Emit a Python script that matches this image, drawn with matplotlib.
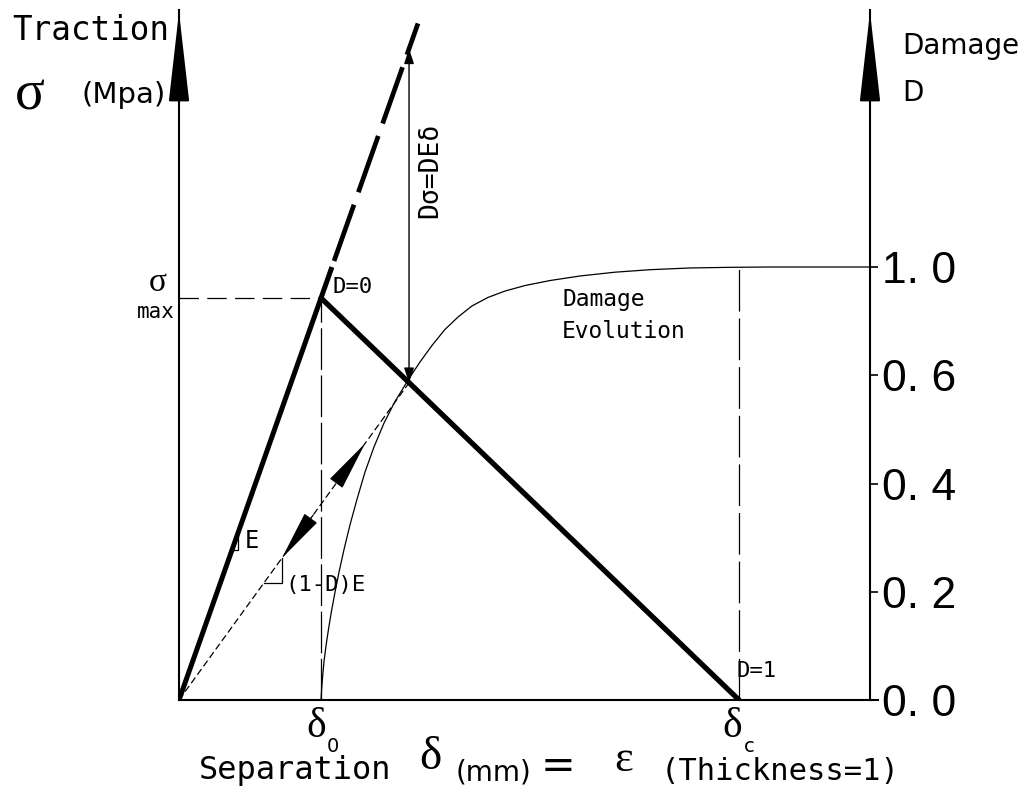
import matplotlib
matplotlib.use("Agg")
import matplotlib.pyplot as plt

plt.rcParams['lines.scale_dashes'] = False

W, H, DPI = 1024, 792, 100

# Bilinear cohesive law, normalised so that delta_0 = 1 and sigma_max = 1
delta_0 = 1.0
delta_c = 3.944
sigma_max = 1.0
stiffness_E = sigma_max / delta_0

# elastic branch: solid part, then dashed undamaged-stiffness extension
elastic_delta = [0.0, 1.077]
extension_delta = [1.092, 1.683]

# softening branch
softening_delta = [delta_0, delta_c]
softening_sigma = [sigma_max, 0.0]

# unloading / reloading path with damaged stiffness (1-D)E
delta_u = 1.62
sigma_u = 0.789
unload_delta = [0.0, delta_u]
unload_sigma = [0.0, sigma_u]

# damage evolution (delta, level on the damage axis scale)
damage_delta = [1.000, 1.004, 1.011, 1.021, 1.035, 1.053, 1.074, 1.099,
                1.127, 1.162, 1.204, 1.254, 1.310, 1.373, 1.444, 1.521,
                1.627, 1.697, 1.782, 1.873, 1.965, 2.063, 2.176, 2.296,
                2.437, 2.613, 2.824, 3.070, 3.317, 3.599, 3.880, 4.162,
                4.866]
damage_level = [0.000, 0.092, 0.212, 0.351, 0.499, 0.656, 0.822, 0.998,
                1.182, 1.390, 1.617, 1.857, 2.106, 2.337, 2.559, 2.758,
                2.984, 3.122, 3.276, 3.423, 3.538, 3.640, 3.719, 3.778,
                3.829, 3.875, 3.917, 3.952, 3.975, 3.991, 3.997, 4.000,
                4.000]
damage_full_level = 4.0

damage_ticks = [0, 1, 2, 3, 4]
damage_ticklabels = ["0. 0", "0. 2", "0. 4", "0. 6", "1. 0"]

MONO = "DejaVu Sans Mono"
SANS = "DejaVu Sans"
SERIF = "Liberation Serif"
DIGITS = "Liberation Sans"


def fx(px):
    return px / W


def fy(py):
    return 1.0 - py / H


fig = plt.figure(figsize=(W / DPI, H / DPI), dpi=DPI, facecolor="white")

# traction axes (left + bottom)
ax = fig.add_axes([fx(179), fy(700), (878 - 179) / W, 690 / H])
ax.set_xlim(0, (878 - 179) / 142)
ax.set_ylim(0, 690 / 402)
ax.set_facecolor("none")
for s in ("top", "right"):
    ax.spines[s].set_visible(False)
for s in ("left", "bottom"):
    ax.spines[s].set_linewidth(1.5)
    ax.spines[s].set_color("black")
ax.set_xticks([])
ax.set_yticks([])

# damage axes (right)
ax2 = fig.add_axes([fx(179), fy(700), (870 - 179) / W, 690 / H])
ax2.set_xlim(0, (870 - 179) / 142)
ax2.set_ylim(0, 690 / 108.25)
ax2.set_facecolor("none")
for s in ("top", "left", "bottom"):
    ax2.spines[s].set_visible(False)
ax2.spines["right"].set_linewidth(1.5)
ax2.set_xticks([])
ax2.yaxis.tick_right()
ax2.set_yticks(damage_ticks)
ax2.set_yticklabels(damage_ticklabels, fontfamily=DIGITS, fontsize=32)
ax2.tick_params(axis="y", direction="out", length=6, width=1.2, pad=3)

# axis arrows
arrow_big = dict(arrowstyle="-|>,head_length=57,head_width=6.5",
                 mutation_scale=1, color="black", lw=1.5,
                 shrinkA=0, shrinkB=0)
ax.annotate("", xy=(0, 688 / 402), xytext=(0, 608 / 402),
            arrowprops=arrow_big, annotation_clip=False)
ax2.annotate("", xy=(691 / 142, 688 / 108.25), xytext=(691 / 142, 608 / 108.25),
             arrowprops=arrow_big, annotation_clip=False)

# elastic branch
ax.plot(elastic_delta, [stiffness_E * d for d in elastic_delta],
        color="black", lw=3.6, solid_capstyle="butt")
ax.plot(extension_delta, [stiffness_E * d for d in extension_delta],
        color="black", lw=3.4, linestyle=(0, (43, 9.5)),
        dash_capstyle="butt")

# softening branch
ax.plot(softening_delta, softening_sigma, color="black", lw=3.8,
        solid_capstyle="round")

# guide lines
ax.plot([0, delta_0], [sigma_max, sigma_max], color="black", lw=0.9,
        linestyle=(0, (14, 6)))
ax.plot([delta_0, delta_0], [0, sigma_max], color="black", lw=0.9,
        linestyle=(0, (30, 4)))
ax2.plot([delta_c, delta_c], [0, damage_full_level], color="black", lw=0.9,
         linestyle=(0, (30, 5)))

# unloading path
ax.plot(unload_delta, unload_sigma, color="black", lw=0.9,
        linestyle=(0, (5, 2.5)))
k_unload = sigma_u / delta_u
head = dict(arrowstyle="-|>,head_length=32,head_width=5", mutation_scale=1,
            color="black", lw=0.9, shrinkA=0, shrinkB=0)
ax.annotate("", xy=(1.31, k_unload * 1.31), xytext=(1.12, k_unload * 1.12),
            arrowprops=head)
ax.annotate("", xy=(0.725, k_unload * 0.725), xytext=(0.944, k_unload * 0.944),
            arrowprops=head)

# stress drop arrow
ax.annotate("", xy=(delta_u, stiffness_E * delta_u), xytext=(delta_u, sigma_u),
            arrowprops=dict(arrowstyle="<|-|>,head_length=9,head_width=3",
                            mutation_scale=1, color="black", lw=1.0,
                            shrinkA=0, shrinkB=0))


# slope markers
def slope_mark(x0, slope, run):
    y0 = slope * x0
    ax.plot([x0, x0 + run, x0 + run], [y0, y0, slope * (x0 + run)],
            color="black", lw=0.9)


slope_mark(0.373, stiffness_E, 0.042)
slope_mark(0.600, k_unload, 0.125)

# damage evolution
ax2.plot(damage_delta, damage_level, color="black", lw=0.9)


# ---- text ----
def ftext(px, py, s, **kw):
    kw.setdefault("va", "center")
    kw.setdefault("ha", "left")
    fig.text(fx(px), fy(py), s, **kw)


ftext(12, 30, "Traction", family=MONO, fontsize=23.5)
ftext(30, 95, "σ", family=SERIF, fontsize=40, ha="center")
ftext(82, 95, "(Mpa)", family=SANS, fontsize=21)
ftext(902, 46, "Damage", family=SANS, fontsize=20)
ftext(902, 93, "D", family=SANS, fontsize=20)

ftext(158, 283, "σ", family=SERIF, fontsize=24, ha="center")
ftext(175, 312, "max", family=MONO, fontsize=15, ha="right")

ftext(332, 287, "D=0", family=MONO, fontsize=16)
ftext(736, 671, "D=1", family=MONO, fontsize=16)
ftext(430, 170, "Dσ=DEδ", family=MONO, fontsize=19, ha="center",
      rotation=90)
ftext(562, 299, "Damage", family=MONO, fontsize=16.5)
ftext(562, 332, "Evolution", family=MONO, fontsize=16.5)
ftext(245, 541, "E", family=MONO, fontsize=17)
ftext(285, 585, "(1-D)E", family=MONO, fontsize=16)

ftext(316, 727, "δ", family=SERIF, fontsize=30, ha="center")
ftext(327, 747, "0", family=SANS, fontsize=14)
ftext(732, 727, "δ", family=SERIF, fontsize=30, ha="center")
ftext(744, 747, "c", family=SANS, fontsize=14)

ftext(199, 771, "Separation", family=MONO, fontsize=23)
ftext(430, 758, "δ", family=SERIF, fontsize=34, ha="center")
ftext(456, 772, "(mm)", family=SANS, fontsize=20)
ftext(558, 766, "=", family=SANS, fontsize=30, ha="center")
ftext(624, 760, "ε", family=SERIF, fontsize=32, ha="center")
ftext(661, 772, "(Thickness=1)", family=MONO, fontsize=22)

fig.savefig("out.png", dpi=DPI, facecolor="white")
